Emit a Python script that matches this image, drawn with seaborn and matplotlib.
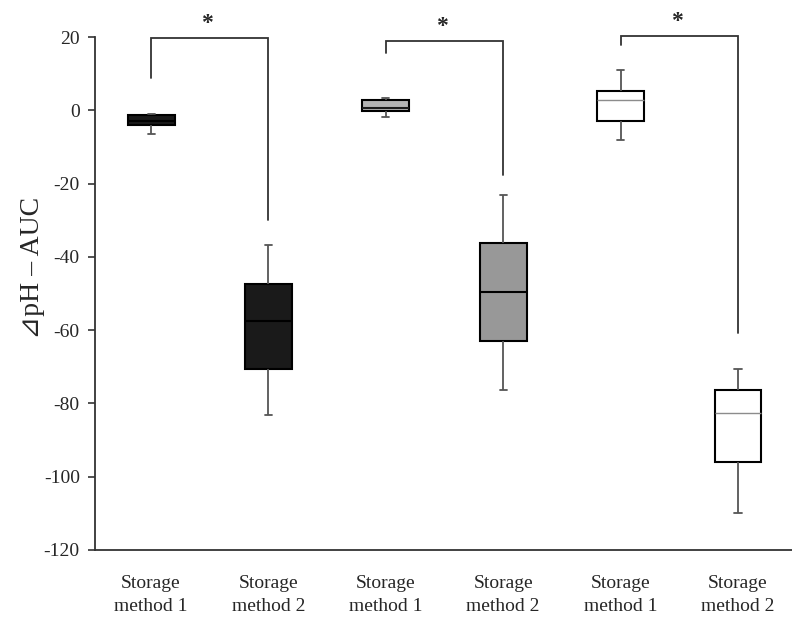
import numpy as np
import pandas as pd
import matplotlib
matplotlib.use("Agg")
import matplotlib.pyplot as plt
import seaborn as sns

# ---- data (five-number summaries) ----
groups = ["A1", "A2", "B1", "B2", "C1", "C2"]
tick_labels = ["Storage\nmethod 1", "Storage\nmethod 2",
               "Storage\nmethod 1", "Storage\nmethod 2",
               "Storage\nmethod 1", "Storage\nmethod 2"]
whisker_low = [-6.6, -83.2, -1.9, -76.4, -8.2, -109.9]
q1_vals = [-4.1, -70.6, -0.1, -63.1, -2.8, -96.1]
medians = [-3.0, -57.5, 0.7, -49.5, 2.7, -82.7]
q3_vals = [-1.2, -47.3, 2.9, -36.2, 5.3, -76.4]
whisker_high = [-0.9, -36.8, 3.4, -23.1, 10.9, -70.7]
fill_colors = ["#1a1a1a", "#1a1a1a", "#b3b3b3", "#989898", "#ffffff", "#ffffff"]
median_colors = ["#000000", "#000000", "#1a1a1a", "#000000", "#8c8c8c", "#8c8c8c"]

# significance brackets: (left group, right group, left-leg bottom, top, right-leg bottom)
br_left = [0, 2, 4]
br_right = [1, 3, 5]
br_left_bottom = [8.8, 15.7, 17.7]
br_top = [19.7, 18.8, 20.2]
br_right_bottom = [-30.0, -17.7, -60.8]
br_label = ["*", "*", "*"]

rows = []
for g, a, b, c, d, e in zip(groups, whisker_low, q1_vals, medians, q3_vals, whisker_high):
    for v in (a, b, c, d, e):
        rows.append({"group": g, "value": v})
df = pd.DataFrame(rows)

sns.set_style("white")
plt.rcParams["font.family"] = ["Liberation Serif", "DejaVu Serif", "DejaVu Sans"]

fig = plt.figure(figsize=(7.92, 6.22), dpi=100)
ax = fig.add_axes([0.12, 0.1158, 0.88, 0.8247])

sns.boxplot(data=df, x="group", y="value", hue="group", order=groups,
            palette=fill_colors, saturation=1, width=0.4, whis=(0, 100),
            linecolor="black", linewidth=1.5, legend=False, ax=ax)

# style lines: whiskers, caps, medians
for ln in ax.lines:
    xd = np.asarray(ln.get_xdata(), dtype=float)
    yd = np.asarray(ln.get_ydata(), dtype=float)
    if len(xd) != 2:
        continue
    if np.isclose(yd[0], yd[1]):
        w = abs(xd[1] - xd[0])
        cx = xd.mean()
        idx = int(round(cx))
        if w < 0.3:  # cap
            ln.set_xdata([cx - 0.03, cx + 0.03])
            ln.set_color("#555555")
            ln.set_linewidth(1.3)
        else:  # median
            ln.set_color(median_colors[idx])
            ln.set_linewidth(1.5 if idx < 4 else 1.0)
    else:  # whisker
        ln.set_color("#555555")
        ln.set_linewidth(1.3)

for p in ax.patches:
    p.set_edgecolor("black")
    p.set_linewidth(1.5)

# brackets
for l, r, lb, t, rb, lab in zip(br_left, br_right, br_left_bottom, br_top, br_right_bottom, br_label):
    ax.plot([l, l, r, r], [lb, t, t, rb], color="#333333", lw=1.3,
            clip_on=False, solid_joinstyle="miter")
    ax.text((l + r) / 2 - 0.02, t + 2.6, lab, ha="center", va="baseline",
            fontsize=17, fontweight="bold", clip_on=False)

ax.set_ylim(-120, 20)
ax.set_xlim(-0.477, 5.46)
ax.set_yticks(np.arange(-120, 21, 20))
ax.set_yticklabels([str(v) for v in range(-120, 21, 20)], fontsize=14)
ax.set_xticks(range(len(groups)))
ax.set_xticklabels(tick_labels, fontsize=14, linespacing=1.45)
ax.tick_params(axis="x", length=0, pad=18)
ax.tick_params(axis="y", direction="out", length=5, width=1.2, color="#333333", left=True, pad=6)
ax.set_xlabel("")
ax.set_ylabel("⊿pH – AUC", fontsize=20, labelpad=4)
ax.yaxis.set_label_coords(-0.072, 0.55)

for side in ("top", "right"):
    ax.spines[side].set_visible(False)
for side in ("left", "bottom"):
    ax.spines[side].set_color("#333333")
    ax.spines[side].set_linewidth(1.3)

fig.savefig("out.png", dpi=100)
